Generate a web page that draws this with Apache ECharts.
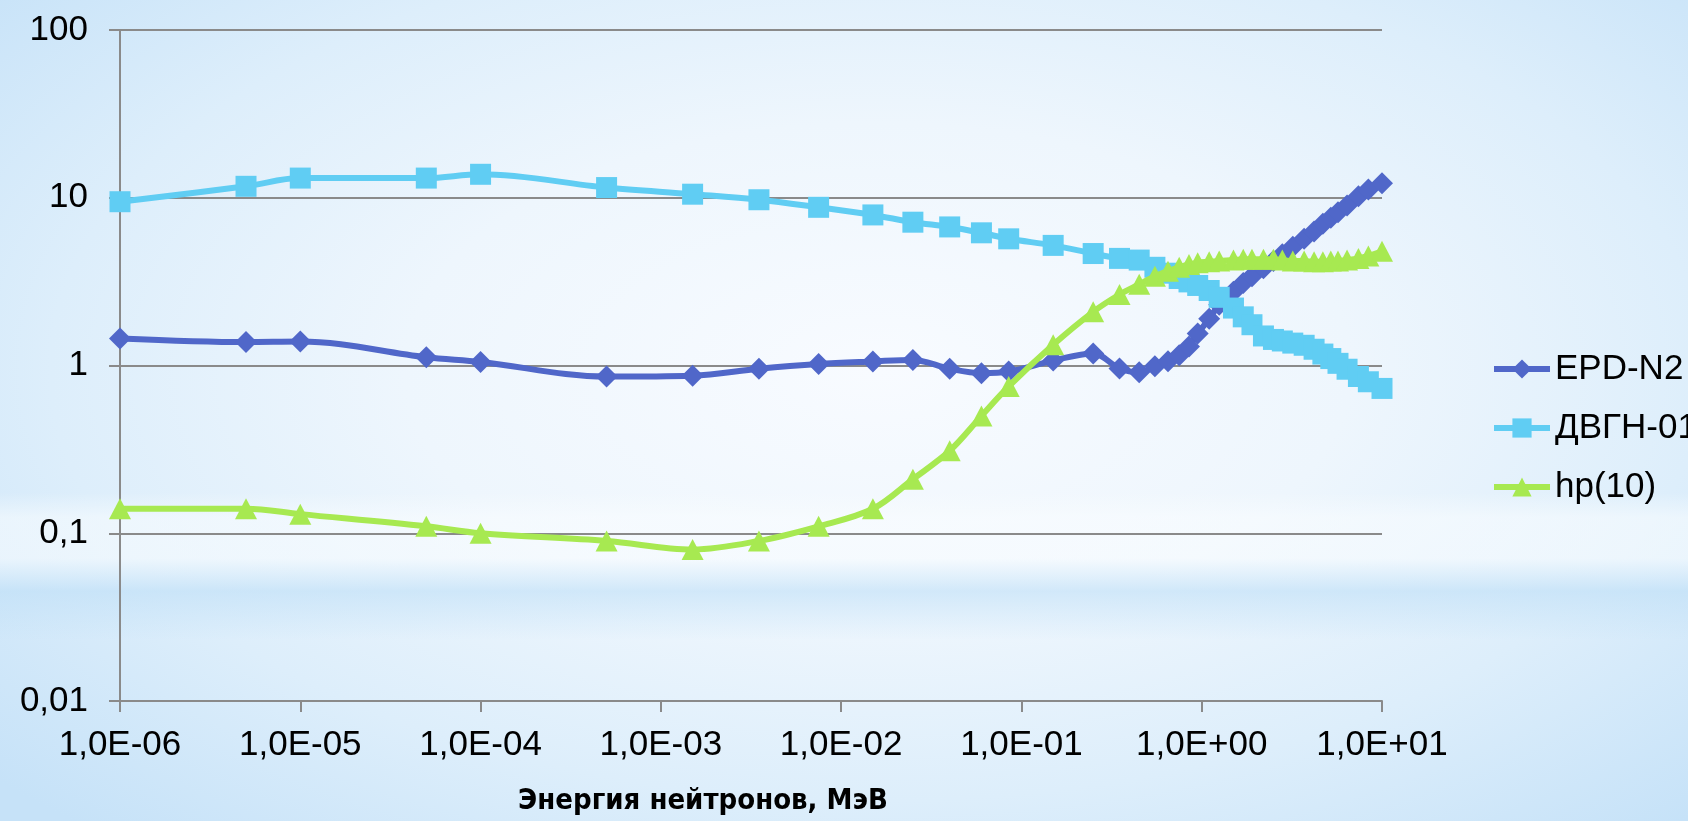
<!DOCTYPE html>
<html>
<head>
<meta charset="utf-8">
<script src="https://cdn.jsdelivr.net/npm/echarts@6/dist/echarts.min.js"></script>
<style>
html, body { margin:0; padding:0; width:1688px; height:821px; overflow:hidden; }
body {
  background:
    linear-gradient(to bottom, rgba(255,255,255,0) 0%, rgba(255,255,255,0) 60%, rgba(250,253,255,0.55) 63%, rgba(250,253,255,0.55) 68%, rgba(190,223,247,0.6) 72%, rgba(255,255,255,0) 78%, rgba(255,255,255,0) 100%),
    radial-gradient(ellipse 70% 75% at 52% 45%, #f8fbff 0%, #eef6fd 40%, #ddeefb 70%, #c6e2f8 100%);
}
#chart { width:1688px; height:821px; }
</style>
</head>
<body>
<div id="chart"></div>
<script>
// Neutron energies, MeV
const energies = [1e-6, 5e-6, 1e-5, 5e-5, 1e-4, 5e-4, 1.5e-3, 3.5e-3, 7.5e-3, 0.015, 0.025, 0.04, 0.06, 0.085,
  0.15, 0.25, 0.35, 0.45, 0.55, 0.65, 0.75, 0.85, 0.95, 1.1, 1.25, 1.5, 1.7, 1.9, 2.2, 2.5, 2.8,
  3.2, 3.7, 4.2, 4.7, 5.2, 5.7, 6.4, 7.4, 8.4, 10];
const epdN2 = [1.45, 1.38, 1.39, 1.12, 1.05, 0.86, 0.87, 0.956, 1.02, 1.057, 1.08, 0.956, 0.90, 0.92,
  1.07, 1.18, 0.96, 0.91, 0.99, 1.06, 1.15, 1.3, 1.55, 1.9, 2.3, 2.75, 3.1, 3.4, 3.8, 4.2, 4.6,
  5.1, 5.7, 6.3, 7.0, 7.6, 8.2, 9.0, 10.2, 11.2, 12.2];
const dvgn01 = [9.47, 11.7, 13.1, 13.1, 13.8, 11.5, 10.5, 9.73, 8.77, 7.9, 7.15, 6.7, 6.18, 5.69,
  5.2, 4.65, 4.35, 4.25, 3.85, 3.55, 3.3, 3.15, 3.0, 2.8, 2.55, 2.2, 1.95, 1.75, 1.5, 1.43, 1.4,
  1.36, 1.32, 1.25, 1.17, 1.1, 1.03, 0.95, 0.86, 0.8, 0.73];
const hp10 = [0.14, 0.14, 0.13, 0.11, 0.10, 0.09, 0.08, 0.09, 0.11, 0.14, 0.21, 0.31, 0.5, 0.75,
  1.33, 2.09, 2.65, 3.05, 3.4, 3.65, 3.85, 4.0, 4.1, 4.15, 4.2, 4.25, 4.3, 4.3, 4.3, 4.3, 4.25,
  4.2, 4.2, 4.15, 4.15, 4.2, 4.2, 4.25, 4.35, 4.5, 4.8];
const seriesNames = ['EPD-N2', 'ДВГН-01', 'hp(10)'];
const xTickLabels = ['1,0E-06', '1,0E-05', '1,0E-04', '1,0E-03', '1,0E-02', '1,0E-01', '1,0E+00', '1,0E+01'];
const yTickLabels = ['0,01', '0,1', '1', '10', '100'];
const xAxisTitle = 'Энергия нейтронов, МэВ';

const colors = ['#5067C9', '#60CDF3', '#A7E951'];
const symbols = ['diamond', 'rect', 'triangle'];
const symbolSizes = [[22, 22], [21, 21], [22, 21]];
const values = [epdN2, dvgn01, hp10];

const chart = echarts.init(document.getElementById('chart'), null, { renderer: 'canvas' });
const axisGray = '#8a8a8a';
const labelFont = "'Liberation Sans', Arimo, Arial, sans-serif";

chart.setOption({
  animation: false,
  backgroundColor: 'transparent',
  grid: { left: 120, top: 30, width: 1262, height: 675, containLabel: false },
  legend: {
    orient: 'vertical',
    left: 1486,
    top: 344,
    itemWidth: 56,
    itemHeight: 24,
    itemGap: 19,
    data: seriesNames,
    lineStyle: { width: 6 },
    textStyle: { fontSize: 35, lineHeight: 40, color: '#000', fontFamily: labelFont }
  },
  xAxis: {
    type: 'log',
    logBase: 10,
    min: 1e-6,
    max: 10,
    splitNumber: 7,
    name: xAxisTitle,
    nameLocation: 'middle',
    nameGap: 86,
    nameTextStyle: {
      fontSize: 29, fontWeight: 'bold', color: '#000',
      fontFamily: "'Liberation Sans Narrow', 'DejaVu Sans Condensed', 'Liberation Sans', sans-serif",
      padding: [0, 96, 0, 0]
    },
    axisLine: { show: true, lineStyle: { color: axisGray, width: 2 } },
    axisTick: { show: true, length: 11, lineStyle: { color: axisGray, width: 2 } },
    minorTick: { show: false },
    splitLine: { show: false },
    axisLabel: {
      fontSize: 35, color: '#000', fontFamily: labelFont, margin: 27,
      formatter: v => xTickLabels[Math.round(Math.log10(v)) + 6]
    }
  },
  yAxis: {
    type: 'log',
    logBase: 10,
    min: 0.01,
    max: 100,
    splitNumber: 4,
    axisLine: { show: true, lineStyle: { color: axisGray, width: 2 } },
    axisTick: { show: true, length: 11, lineStyle: { color: axisGray, width: 2 } },
    minorTick: { show: false },
    splitLine: { show: true, lineStyle: { color: axisGray, width: 2 } },
    axisLabel: {
      fontSize: 35, color: '#000', fontFamily: labelFont, margin: 32,
      formatter: v => yTickLabels[Math.round(Math.log10(v)) + 2]
    }
  },
  series: seriesNames.map((name, k) => ({
    name: name,
    type: 'line',
    smooth: 0.35,
    symbol: symbols[k],
    symbolSize: symbolSizes[k],
    showSymbol: true,
    color: colors[k],
    lineStyle: { color: colors[k], width: 6 },
    itemStyle: { color: colors[k] },
    emphasis: { disabled: true },
    data: energies.map((e, i) => [e, values[k][i]]),
    z: 2 + k
  }))
});
</script>
</body>
</html>
